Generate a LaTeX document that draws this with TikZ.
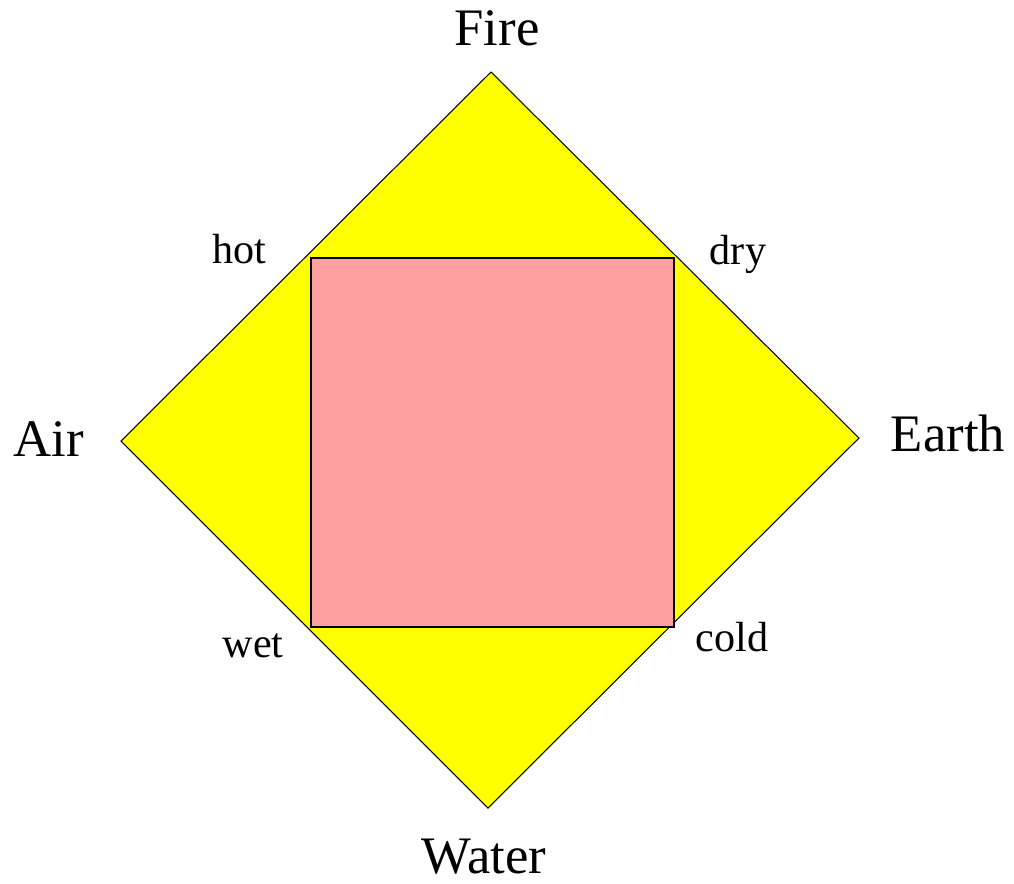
\documentclass[tikz,border=0pt]{standalone}
\usepackage{fontspec}
\setmainfont{Liberation Serif}
\usepackage{tikz}
\usepackage{xcolor}
\definecolor{diamondyellow}{RGB}{255,255,0}
\definecolor{squarepink}{RGB}{255,160,160}

\begin{document}
\begin{tikzpicture}[x=0.02cm, y=-0.02cm, line width=0.6pt,
  element/.style={anchor=base, font=\fontsize{30}{33}\selectfont},
  quality/.style={anchor=base, font=\fontsize{24}{27}\selectfont}]
  \useasboundingbox (0,0) rectangle (1014,883);
  % Corners of the diamond
  \coordinate (top) at (491,72);
  \coordinate (left) at (121,441);
  \coordinate (right) at (859,438);
  \coordinate (bottom) at (488,808);
  % Yellow diamond
  \filldraw[fill=diamondyellow, draw=black] (top) -- (right) -- (bottom) -- (left) -- cycle;
  % Pink square
  \coordinate (sqnw) at (311,258);
  \coordinate (sqse) at (674,627);
  \filldraw[fill=squarepink, draw=black] (sqnw) rectangle (sqse);
  % Elements
  \node[element] (fire) at (497,45) {Fire};
  \node[element] (air) at (49,456) {Air};
  \node[element] (earth) at (948,451) {Earth};
  \node[element] (water) at (484,873) {Water};
  % Qualities
  \node[quality] (hot) at (239,263) {hot};
  \node[quality] (dry) at (738,264) {dry};
  \node[quality] (wet) at (253,657) {wet};
  \node[quality] (cold) at (732,651) {cold};
\end{tikzpicture}
\end{document}
